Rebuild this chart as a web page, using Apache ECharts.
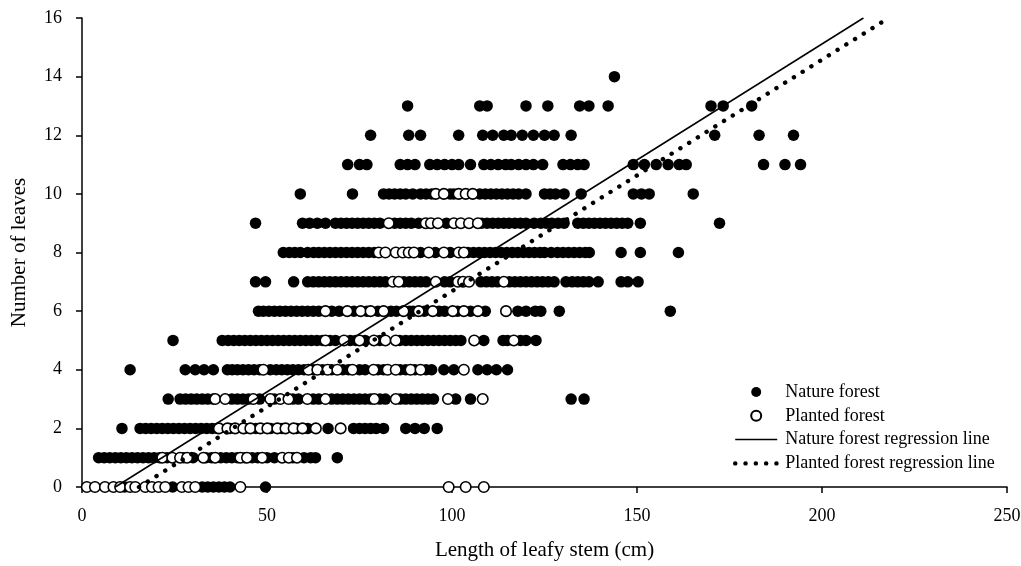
<!DOCTYPE html>
<html><head><meta charset="utf-8">
<script src="https://cdn.jsdelivr.net/npm/echarts@6/dist/echarts.min.js"></script>
<style>html,body{margin:0;padding:0;background:#fff}#c{width:1021px;height:566px}</style>
</head><body><div id="c"></div>
<script>
// Axis settings
const xTicks = [0, 50, 100, 150, 200, 250];
const yTicks = [0, 2, 4, 6, 8, 10, 12, 14, 16];

// Nature forest: x values (cm) for each number of leaves (index = leaves)
const nature0 = [11.5, 24.5, 32.5, 34, 35.5, 37, 38.5, 40, 49.6];
const nature1 = [4.5, 6, 7.5, 9, 10.5, 12, 13.5, 15, 16.5, 18, 19.5, 21, 23, 27.5, 30, 33.5, 35, 37.5, 39, 40.5, 42, 44, 46, 47.5, 50, 52, 57, 60, 61.8, 63.1, 69];
const nature2 = [10.8, 15.7, 17.2, 18.7, 20.2, 21.7, 23.2, 24.7, 26.2, 27.7, 29.2, 30.7, 32.2, 33.7, 35.2, 36.6, 40, 44, 47, 51, 54, 58, 61, 66.5, 73.4, 75, 76.5, 78, 79.5, 81.5, 87.5, 90, 92.5, 96];
const nature3 = [23.3, 26.5, 28, 29.5, 31, 32.5, 34, 35.5, 40.5, 42, 43.5, 45, 48, 52, 57, 58.5, 62.5, 64, 67.5, 69, 70.5, 72, 73.5, 75, 76.5, 78, 80.5, 82, 86, 87.5, 89, 90.5, 92, 93.5, 95, 101, 105, 132.2, 135.7];
const nature4 = [13, 27.9, 30.6, 33, 35.5, 39.3, 40.6, 42, 43.5, 45, 46.5, 48, 50.9, 52.5, 54, 55.5, 57, 58.5, 60, 62.5, 65, 67.5, 70.5, 72, 75, 76.5, 80, 81.5, 86, 87.5, 90, 93, 94.5, 97.8, 100.5, 107, 109.5, 112, 115];
const nature5 = [24.6, 37.9, 39.5, 41, 42.5, 44, 45.5, 47, 48.5, 50, 51.5, 53, 54.5, 56, 57.5, 59, 60.5, 62, 63.5, 65, 67, 68.5, 72.5, 74, 76.5, 80.5, 85.9, 87.5, 89, 90.5, 92, 93.5, 95, 96.5, 98, 99.5, 101, 102.4, 108.6, 113.8, 115, 118.5, 120, 122.7];
const nature6 = [47.7, 49, 50.5, 52, 53.5, 55, 56.5, 58, 59.5, 61, 62.5, 64, 67.5, 69.5, 73.5, 77, 80, 83.5, 85, 88.5, 89.5, 92.5, 96.5, 98, 101.5, 105, 109, 117.8, 120, 122.5, 124, 129, 159];
const nature7 = [46.9, 49.6, 57.2, 61, 62.5, 64, 65.5, 67, 68.5, 70, 71.5, 73, 74.5, 76, 77.5, 79, 80.5, 82, 87, 88.5, 90, 91.5, 93, 98, 99.5, 107.8, 109.3, 110.8, 112.3, 115.5, 117, 118.5, 120, 121.5, 123, 124.5, 126, 127.6, 130.8, 132.5, 134, 135.5, 137, 139.5, 145.7, 147.5, 150.3];
const nature8 = [54.4, 56, 57.5, 59, 61, 62.6, 64, 65.5, 67, 68.5, 70, 71.5, 73, 74.5, 76, 77.5, 79, 91.5, 95.5, 99.5, 104.3, 105.8, 107.3, 108.8, 110.3, 111.8, 113.3, 114.8, 116.3, 117.8, 119.3, 120.8, 122.3, 123.8, 125, 126.8, 128.5, 130, 131.5, 133, 134.5, 136, 137.1, 145.7, 150.9, 161.2];
const nature9 = [46.9, 59.6, 61.5, 63.6, 65.8, 68.5, 70, 71.5, 73, 74.5, 76, 77.5, 79, 80.5, 84.5, 86, 87.5, 89, 91, 98.5, 108, 109.5, 111, 112.5, 114, 115.4, 117, 118.5, 120, 122.2, 124, 125.5, 127, 128.7, 130.3, 134, 135.5, 137, 138.5, 140, 141.5, 143, 144.5, 146, 147.5, 150.9, 172.3];
const nature10 = [59, 73.1, 81.5, 83, 84.5, 86, 87.5, 89.4, 91.5, 93, 94.5, 99.5, 100.5, 107.5, 109, 110.5, 112, 113.5, 115, 116.5, 118, 120, 125, 126.5, 128, 130.3, 134.9, 149, 151.2, 153.3, 165.2];
const nature11 = [71.8, 75, 77, 86, 88, 90, 94, 96, 98, 100, 101.8, 105, 108.6, 110.5, 112.5, 114.5, 116, 118, 120, 122, 124.5, 130, 132, 134, 135.7, 149, 152, 155.2, 158.4, 161.4, 163.3, 184.2, 190, 194.2];
const nature12 = [78, 88.3, 91.5, 101.8, 108.3, 111, 114, 116, 119, 122, 125, 127.6, 132.2, 171, 183, 192.3];
const nature13 = [88, 107.5, 109.5, 120, 125.9, 134.5, 137, 142.2, 170, 173.3, 181];
const nature14 = [143.9];

// Planted forest: x values (cm) for each number of leaves (index = leaves)
const planted0 = [1.3, 3.5, 6.2, 8.5, 10.3, 13, 14.4, 17.1, 18.9, 20.7, 22.5, 27, 28.8, 30.6, 42.8, 99.1, 103.7, 108.6];
const planted1 = [21.7, 24.4, 26.5, 28.4, 32.8, 36, 42.8, 44.6, 48.7, 54.1, 55.9, 58.1];
const planted2 = [37, 39.3, 41.4, 43.6, 45.5, 48.2, 50.1, 52.8, 55, 57.2, 59.6, 63.2, 69.9];
const planted3 = [36, 38.7, 46.3, 50.9, 53.6, 55.8, 60.9, 65.8, 79, 84.8, 98.9, 108.3];
const planted4 = [49, 61.2, 63.6, 66.4, 69, 73.1, 78.8, 82.6, 84.8, 88.8, 91.5, 103.2];
const planted5 = [65.8, 70.8, 75, 78.9, 82, 84.8, 106, 116.7];
const planted6 = [65.8, 71.7, 75.3, 78, 81.5, 86.9, 91, 94.8, 100.2, 103.2, 107, 114.6];
const planted7 = [84, 85.6, 95.6, 101.6, 103, 104.6, 114];
const planted8 = [80.2, 82, 84.8, 86.7, 88.3, 89.7, 93.7, 97.8, 101.8, 103.2];
const planted9 = [82.9, 92.9, 94.3, 96.2, 100.5, 102.4, 104.6, 107];
const planted10 = [95.6, 97.8, 101.8, 103.7, 105.6];

// Regression lines (end points, [x, y])
const natureLine = [[9, 0], [211.2, 16]];
const plantedLine = [[15.4, 0], [218, 16]];

const natureRows = [nature0, nature1, nature2, nature3, nature4, nature5, nature6, nature7, nature8, nature9, nature10, nature11, nature12, nature13, nature14];
const plantedRows = [planted0, planted1, planted2, planted3, planted4, planted5, planted6, planted7, planted8, planted9, planted10];

function toPoints(rows) {
  const out = [];
  rows.forEach((xs, y) => xs.forEach(x => out.push([x, y])));
  return out;
}

const FONT = 'Liberation Serif';
const dotStyle = { color: '#000', width: 4.4, type: [0.1, 10.2], cap: 'round' };
const solidStyle = { color: '#000', width: 1.5 };
const chart = echarts.init(document.getElementById('c'), null, { renderer: 'canvas' });
chart.setOption({
  animation: false,
  backgroundColor: '#fff',
  grid: { left: 82, right: 14, top: 18, bottom: 79, containLabel: false, outerBoundsMode: 'none' },
  xAxis: {
    type: 'value', min: xTicks[0], max: xTicks[xTicks.length - 1], interval: 50,
    name: 'Length of leafy stem (cm)', nameLocation: 'middle', nameGap: 53,
    nameTextStyle: { fontFamily: FONT, fontSize: 21, color: '#000' },
    axisLine: { lineStyle: { color: '#000', width: 1.5 } },
    axisTick: { show: true, length: 6, lineStyle: { color: '#000', width: 1.5 } },
    axisLabel: { fontFamily: FONT, fontSize: 18, color: '#000', margin: 20 },
    splitLine: { show: false }
  },
  yAxis: {
    type: 'value', min: yTicks[0], max: yTicks[yTicks.length - 1], interval: 2,
    name: 'Number of leaves', nameLocation: 'middle', nameGap: 52, nameRotate: 90,
    nameTextStyle: { fontFamily: FONT, fontSize: 21, color: '#000' },
    axisLine: { show: true, lineStyle: { color: '#000', width: 1.5 } },
    axisTick: { show: true, length: 6, lineStyle: { color: '#000', width: 1.5 } },
    axisLabel: { fontFamily: FONT, fontSize: 18, color: '#000', margin: 20 },
    splitLine: { show: false }
  },
  legend: {
    orient: 'vertical', left: 733, top: 383, padding: 0,
    itemWidth: 42, itemHeight: 10, itemGap: 5.8,
    textStyle: { fontFamily: FONT, fontSize: 18, color: '#000', lineHeight: 18, padding: [0, 0, 0, 3] },
    data: [
      { name: 'Nature forest' },
      { name: 'Planted forest' },
      { name: 'Nature forest regression line', itemStyle: { color: 'rgba(0,0,0,0)', borderWidth: 0 }, lineStyle: solidStyle },
      { name: 'Planted forest regression line', itemStyle: { color: 'rgba(0,0,0,0)', borderWidth: 0 }, lineStyle: dotStyle }
    ]
  },
  series: [
    {
      name: 'Nature forest', type: 'scatter', symbol: 'circle', symbolSize: 11.5,
      itemStyle: { color: '#000', opacity: 1 },
      data: toPoints(natureRows), z: 2
    },
    {
      name: 'Planted forest', type: 'scatter', symbol: 'circle', symbolSize: 10.5,
      itemStyle: { color: '#fff', borderColor: '#000', borderWidth: 1.6, opacity: 1 },
      data: toPoints(plantedRows), z: 3
    },
    {
      name: 'Nature forest regression line', type: 'line', symbol: 'none',
      itemStyle: { color: 'rgba(0,0,0,0)' },
      lineStyle: solidStyle,
      data: natureLine, z: 4
    },
    {
      name: 'Planted forest regression line', type: 'line', symbol: 'none',
      itemStyle: { color: 'rgba(0,0,0,0)' },
      lineStyle: dotStyle,
      data: plantedLine, z: 4
    }
  ]
});
</script>
</body></html>
